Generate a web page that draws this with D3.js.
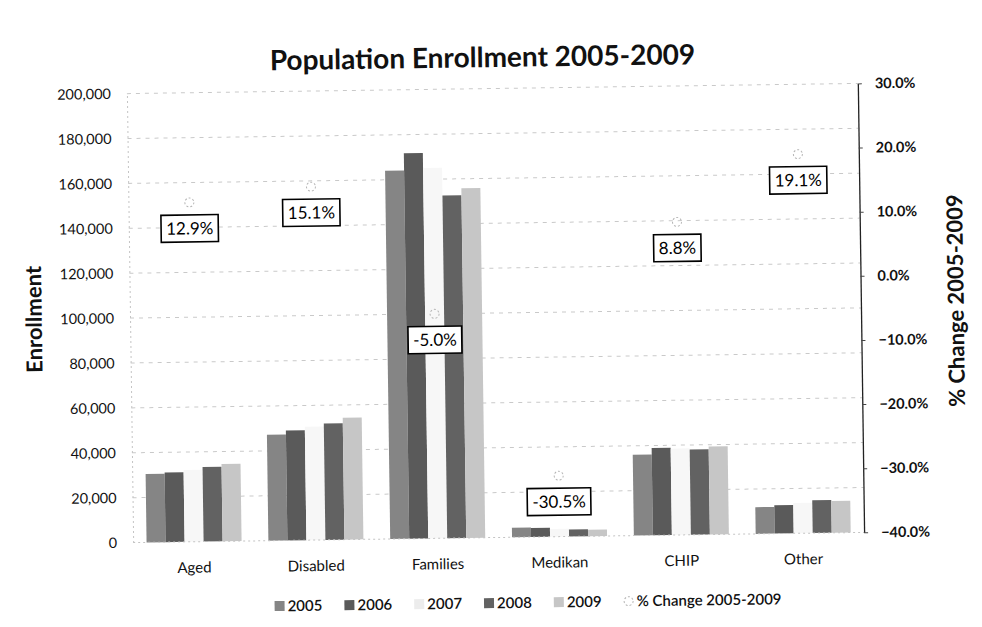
<!DOCTYPE html>
<html>
<head>
<meta charset="utf-8">
<script src="https://cdn.jsdelivr.net/npm/d3@7"></script>
<style>
  body { margin: 0; background: #fff; }
  svg { display: block; font-family: Lato, "Open Sans", sans-serif; }
</style>
</head>
<body>
<svg id="chart" width="982" height="627"></svg>
<script>
// Enrollment by population group, 2005-2009
const categories = ["Aged", "Disabled", "Families", "Medikan", "CHIP", "Other"];
const years = ["2005", "2006", "2007", "2008", "2009"];
const enroll2005 = [30500, 47200, 164000, 4200, 36000, 11900];
const enroll2006 = [31000, 49000, 171700, 4000, 38900, 12600];
const enroll2007 = [32000, 50500, 165000, 3500, 38500, 13500];
const enroll2008 = [33200, 51800, 152700, 3100, 38000, 14600];
const enroll2009 = [34430, 54330, 155800, 2920, 39170, 14170];
const pctChange = [0.129, 0.151, -0.050, -0.305, 0.088, 0.191];
const pctLabels = ["12.9%", "15.1%", "-5.0%", "-30.5%", "8.8%", "19.1%"];
const leftTicks = [0, 20000, 40000, 60000, 80000, 100000, 120000, 140000, 160000, 180000, 200000];
const rightTicks = [-0.4, -0.3, -0.2, -0.1, 0, 0.1, 0.2, 0.3];

const seriesValues = [enroll2005, enroll2006, enroll2007, enroll2008, enroll2009];
const seriesFill = ["#858585", "#5a5a5a", "#f7f7f7", "#626262", "#c6c6c6"];

const W = 982, H = 627;
const plot = { left: 130, right: 861, top: 88.5, bottom: 537.5 };

const svg = d3.select("#chart");
// the whole sheet sits at a slight counter-clockwise tilt
const root = svg.append("g").attr("transform", "rotate(-0.8, 495.5, 313)");

const x0 = d3.scaleBand().domain(categories).range([plot.left, plot.right])
  .paddingInner(0.22).paddingOuter(0.11);
const x1 = d3.scaleBand().domain(years).range([0, x0.bandwidth()]).padding(0);
const yL = d3.scaleLinear().domain([0, 200000]).range([plot.bottom, plot.top]);
const yR = d3.scaleLinear().domain([-0.4, 0.3]).range([plot.bottom, plot.top]);

// gridlines
root.append("g").selectAll("line").data(leftTicks.filter(d => d > 0)).join("line")
  .attr("x1", plot.left).attr("x2", plot.right)
  .attr("y1", d => yL(d)).attr("y2", d => yL(d))
  .attr("stroke", "#c9c9c9").attr("stroke-width", 1)
  .attr("stroke-dasharray", "4 5");

// bars
const barData = [];
categories.forEach((c, i) => years.forEach((yr, j) => barData.push({ c, yr, j, v: seriesValues[j][i] })));
root.append("g").selectAll("rect").data(barData).join("rect")
  .attr("x", d => x0(d.c) + x1(d.yr))
  .attr("width", x1.bandwidth())
  .attr("y", d => yL(d.v))
  .attr("height", d => yL(0) - yL(d.v))
  .attr("fill", d => seriesFill[d.j]);

// left axis
const axL = root.append("g").attr("transform", `translate(${plot.left},0)`)
  .call(d3.axisLeft(yL).tickValues(leftTicks).tickFormat(d3.format(",")).tickSize(0).tickPadding(16));
axL.select(".domain").attr("stroke", "#c4c4c4").attr("stroke-dasharray", "2 3");
axL.selectAll("text").attr("font-size", 14.5).attr("fill", "#111").attr("font-family", "Lato");

// bottom baseline
root.append("line").attr("x1", plot.left).attr("x2", plot.right)
  .attr("y1", yL(0)).attr("y2", yL(0))
  .attr("stroke", "#c4c4c4").attr("stroke-dasharray", "2 3");

// right axis
const axR = root.append("g").attr("transform", `translate(${plot.right},0)`)
  .call(d3.axisRight(yR).tickValues(rightTicks).tickFormat(d3.format(".1%")).tickSize(4).tickSizeOuter(0).tickPadding(13));
axR.select(".domain").attr("stroke", "#222").attr("stroke-width", 1.3);
axR.selectAll(".tick line").attr("stroke", "#444");
axR.selectAll("text").attr("font-size", 14.5).attr("font-weight", 700).attr("fill", "#111").attr("font-family", "Lato");

// category labels
root.append("g").selectAll("text").data(categories).join("text")
  .attr("x", d => x0(d) + x0.bandwidth() / 2)
  .attr("y", plot.bottom + 31)
  .attr("text-anchor", "middle")
  .attr("font-size", 15).attr("fill", "#111")
  .text(d => d);

// % change markers
const cx = d => x0(d) + x0.bandwidth() / 2;
root.append("g").selectAll("circle").data(categories).join("circle")
  .attr("cx", d => cx(d))
  .attr("cy", (d, i) => yR(pctChange[i]))
  .attr("r", 4.5)
  .attr("fill", "none").attr("stroke", "#b5b5b5").attr("stroke-width", 1)
  .attr("stroke-dasharray", "2 2");

// % change data labels
const lab = root.append("g").selectAll("g").data(categories).join("g")
  .attr("transform", (d, i) => `translate(${cx(d)},${yR(pctChange[i]) + 26})`);
lab.append("text")
  .attr("text-anchor", "middle").attr("dy", "0.35em")
  .attr("font-size", 17).attr("fill", "#000")
  .text((d, i) => pctLabels[i]);
lab.each(function () {
  const g = d3.select(this);
  const bb = g.select("text").node().getBBox();
  g.insert("rect", "text")
    .attr("x", bb.x - 5).attr("y", -13.5)
    .attr("width", bb.width + 10).attr("height", 27)
    .attr("fill", "#fff").attr("stroke", "#000").attr("stroke-width", 1.6);
});

// title
root.append("text")
  .attr("x", 486).attr("y", 67)
  .attr("text-anchor", "middle")
  .attr("font-size", 28).attr("font-weight", 700).attr("fill", "#111")
  .text("Population Enrollment 2005-2009");

// axis titles
root.append("text")
  .attr("transform", `translate(34,${(plot.top + plot.bottom) / 2}) rotate(-90)`)
  .attr("text-anchor", "middle").attr("dy", "0.35em")
  .attr("font-size", 22).attr("font-weight", 700).attr("fill", "#111")
  .text("Enrollment");
root.append("text")
  .attr("transform", `translate(956,${(plot.top + plot.bottom) / 2 - 6}) rotate(-90)`)
  .attr("text-anchor", "middle").attr("dy", "0.35em")
  .attr("font-size", 22).attr("font-weight", 700).attr("fill", "#111")
  .text("% Change 2005-2009");

// legend
const legendItems = years.map((y, j) => ({ label: y, kind: "bar", j }))
  .concat([{ label: "% Change 2005-2009", kind: "marker" }]);
const legend = root.append("g");
let lx = 0;
const legendY = 603;
legendItems.forEach(it => {
  const g = legend.append("g").attr("transform", `translate(${lx},${legendY})`);
  if (it.kind === "bar") {
    g.append("rect").attr("x", 0).attr("y", -5).attr("width", 10).attr("height", 10)
      .attr("fill", seriesFill[it.j] === "#f7f7f7" ? "#ececec" : seriesFill[it.j]);
  } else {
    g.append("circle").attr("cx", 5).attr("cy", 0).attr("r", 4.5)
      .attr("fill", "none").attr("stroke", "#b5b5b5").attr("stroke-dasharray", "2 2");
  }
  const t = g.append("text").attr("x", 13).attr("dy", "0.35em")
    .attr("font-size", 15).attr("font-weight", 600).attr("fill", "#111")
    .text(it.label);
  lx += 13 + t.node().getComputedTextLength() + 22;
});
const legendW = lx - 22;
legend.attr("transform", `translate(${524 - legendW / 2},0)`);
</script>
</body>
</html>
